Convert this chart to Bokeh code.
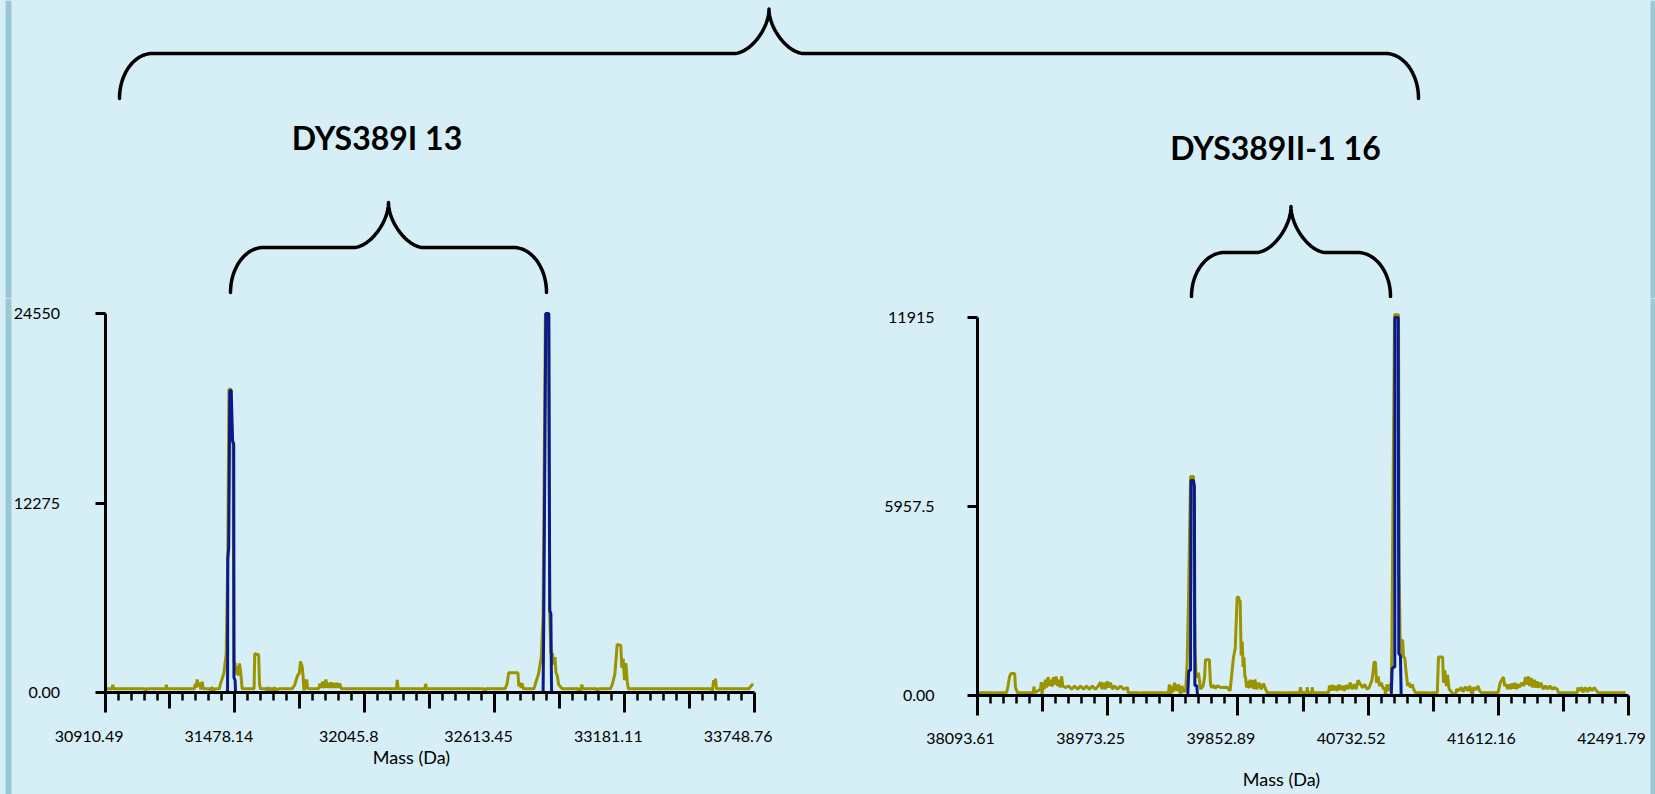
import numpy as np
from bokeh.plotting import figure
from bokeh.layouts import column, row
from bokeh.models import LinearAxis, FixedTicker, Range1d, BoxAnnotation
from bokeh.core.properties import value
from bokeh.embed import file_html
from bokeh.resources import INLINE

try:
    from bokeh.models import GlobalInlineStyleSheet
except Exception:
    GlobalInlineStyleSheet = None

BG = "#D6EEF5"
STRIP = "#9AC8D3"
OLIVE = "#999400"
BLUE = "#0A1A8C"
FONT = "Lato"

# ---------------- data ----------------
titles = ["DYS389I 13", "DYS389II-1 16"]
x_axis_title = "Mass (Da)"

left_x_ticks = [30910.49, 31478.14, 32045.8, 32613.45, 33181.11, 33748.76]
left_x_labels = ["30910.49", "31478.14", "32045.8", "32613.45", "33181.11", "33748.76"]
left_y_ticks = [0, 12275, 24550]
left_y_labels = ["0.00", "12275", "24550"]

right_x_ticks = [38093.61, 38973.25, 39852.89, 40732.52, 41612.16, 42491.79]
right_x_labels = ["38093.61", "38973.25", "39852.89", "40732.52", "41612.16", "42491.79"]
right_y_ticks = [0, 5957.5, 11915]
right_y_labels = ["0.00", "5957.5", "11915"]

left_raw_mass = [30910, 30941, 30944, 30948, 31085, 31087, 31092, 31176, 31178, 31182,
                 31300, 31305, 31309, 31313, 31318, 31323, 31329, 31335, 31340, 31368,
                 31373, 31378, 31385, 31392, 31410, 31415, 31430, 31440, 31447, 31452,
                 31461, 31465, 31470, 31474, 31479, 31484, 31488, 31492, 31498, 31503,
                 31510, 31562, 31565, 31582, 31586, 31590, 31616, 31619, 31624, 31630,
                 31638, 31645, 31652, 31660, 31669, 31729, 31740, 31752, 31760, 31765,
                 31772, 31776, 31780, 31784, 31788, 31792, 31796, 31803, 31844, 31850,
                 31856, 31862, 31868, 31876, 31882, 31888, 31894, 31900, 31906, 31912,
                 31918, 31924, 31930, 31936, 31944, 32185, 32188, 32192, 32309, 32312,
                 32316, 32568, 32571, 32576, 32660, 32668, 32676, 32716, 32720, 32725,
                 32730, 32734, 32740, 32786, 32793, 32806, 32818, 32826, 32836, 32850,
                 32855, 32860, 32867, 32872, 32878, 32882, 32888, 32894, 32910, 32978,
                 32981, 32986, 32990, 32995, 33000, 33060, 33063, 33068, 33121, 33130,
                 33140, 33150, 33166, 33170, 33176, 33182, 33188, 33194, 33199, 33563,
                 33566, 33572, 33578, 33580, 33584, 33726, 33740, 33746]
left_raw_int = [240, 240, 500, 240, 240, 0, 240, 240, 500, 240,
                240, 560, 300, 840, 400, 650, 200, 700, 240, 240,
                30, 350, 100, 240, 240, 560, 1230, 2500, 8700, 19650,
                19650, 16400, 16200, 2000, 1880, 1200, 1700, 1100, 1880, 1400,
                240, 240, 2510, 2450, 500, 240, 240, 50, 350, 80,
                300, 60, 330, 100, 240, 240, 500, 1100, 1250, 2010,
                1700, 1100, 130, 850, 200, 840, 300, 240, 240, 580,
                300, 700, 300, 840, 300, 620, 300, 650, 300, 600,
                300, 620, 300, 580, 240, 240, 820, 240, 240, 560,
                240, 240, 0, 240, 240, 550, 1280, 1280, 400, 640,
                300, 600, 240, 240, 600, 1200, 2300, 5000, 24550, 24550,
                4900, 2500, 2530, 1800, 2300, 1300, 1100, 500, 240, 240,
                0, 300, 100, 500, 240, 240, 0, 240, 240, 600,
                1200, 3110, 3050, 1600, 2200, 800, 1900, 700, 240, 240,
                0, 800, 500, 900, 240, 240, 500, 500]

left_fit_mass = [[31441, 31446, 31447, 31451, 31456, 31462, 31468, 31473, 31474, 31479, 31481],
                 [32822, 32826, 32829, 32838, 32851, 32855, 32860, 32863, 32866]]
left_fit_int = [[0, 0, 8700, 9330, 19560, 19560, 16300, 16100, 970, 780, 0],
                [0, 0, 4880, 24550, 24550, 5310, 5120, 0, 0]]

right_raw_mass = [38094, 38200, 38204, 38210, 38290, 38300, 38310, 38320, 38345, 38350,
                  38364, 38470, 38475, 38480, 38519, 38525, 38530, 38536, 38545, 38552,
                  38560, 38570, 38580, 38590, 38598, 38606, 38614, 38625, 38634, 38645,
                  38652, 38662, 38670, 38688, 38710, 38730, 38750, 38770, 38790, 38810,
                  38830, 38850, 38870, 38890, 38910, 38925, 38935, 38945, 38958, 38970,
                  38980, 38992, 39005, 39020, 39040, 39060, 39080, 39107, 39112, 39190,
                  39195, 39200, 39384, 39390, 39398, 39406, 39414, 39425, 39440, 39452,
                  39465, 39475, 39485, 39500, 39510, 39519, 39533, 39553, 39557, 39563,
                  39570, 39580, 39586, 39593, 39600, 39618, 39628, 39634, 39660, 39668,
                  39675, 39690, 39700, 39715, 39735, 39780, 39800, 39823, 39835, 39848,
                  39858, 39862, 39868, 39875, 39882, 39888, 39894, 39900, 39904, 39912,
                  39920, 39928, 39936, 39944, 39952, 39960, 39968, 39980, 39995, 40010,
                  40025, 40040, 40051, 40158, 40161, 40166, 40270, 40276, 40282, 40318,
                  40321, 40326, 40352, 40355, 40360, 40465, 40472, 40480, 40490, 40500,
                  40512, 40524, 40536, 40548, 40560, 40572, 40585, 40598, 40612, 40625,
                  40640, 40652, 40665, 40681, 40695, 40710, 40725, 40740, 40760, 40773,
                  40782, 40790, 40800, 40810, 40822, 40835, 40845, 40850, 40860, 40870,
                  40880, 40889, 40893, 40911, 40938, 40942, 40950, 40960, 40966, 40972,
                  40980, 40990, 41000, 41010, 41019, 41030, 41040, 41053, 41150, 41154,
                  41160, 41200, 41208, 41236, 41242, 41250, 41262, 41269, 41280, 41300,
                  41323, 41330, 41345, 41360, 41375, 41390, 41405, 41420, 41435, 41445,
                  41460, 41475, 41485, 41500, 41610, 41625, 41647, 41655, 41665, 41675,
                  41685, 41695, 41705, 41715, 41725, 41735, 41745, 41755, 41770, 41785,
                  41796, 41805, 41815, 41825, 41835, 41845, 41856, 41864, 41875, 41885,
                  41900, 41915, 41930, 41945, 41960, 41975, 41990, 42010, 42019, 42145,
                  42150, 42158, 42175, 42185, 42200, 42215, 42230, 42245, 42260, 42275,
                  42289, 42472]
right_raw_int = [85, 85, 0, 85, 85, 300, 600, 690, 690, 250,
                 85, 85, 280, 85, 200, 420, 0, 400, 200, 500,
                 250, 580, 300, 500, 280, 580, 350, 600, 300, 500,
                 250, 600, 300, 250, 300, 200, 300, 200, 300, 200,
                 300, 200, 300, 200, 300, 420, 200, 400, 200, 450,
                 250, 400, 200, 300, 200, 300, 200, 250, 85, 85,
                 0, 85, 85, 350, 0, 300, 100, 400, 150, 350,
                 0, 300, 120, 150, 1000, 3000, 6900, 6900, 4000, 1500,
                 700, 560, 720, 500, 200, 300, 600, 1130, 1130, 350,
                 250, 320, 230, 310, 250, 260, 150, 1200, 1500, 3100,
                 3100, 2990, 2990, 1260, 1700, 900, 1200, 600, 580, 250,
                 450, 230, 500, 250, 480, 200, 500, 200, 400, 200,
                 380, 200, 85, 85, 0, 85, 85, 260, 85, 85,
                 260, 85, 85, 260, 85, 85, 320, 150, 330, 170,
                 300, 150, 340, 180, 300, 150, 330, 200, 400, 200,
                 350, 200, 480, 350, 250, 350, 200, 250, 500, 1050,
                 1050, 400, 600, 300, 400, 200, 250, 0, 350, 150,
                 300, 400, 1500, 12000, 12000, 4000, 1300, 1740, 1740, 1200,
                 1200, 700, 300, 400, 250, 350, 200, 85, 85, 0,
                 85, 85, 1210, 1210, 400, 800, 300, 650, 200, 85,
                 0, 200, 150, 250, 120, 280, 150, 300, 0, 250,
                 180, 300, 150, 85, 85, 400, 580, 300, 350, 200,
                 350, 200, 380, 220, 400, 200, 360, 250, 400, 300,
                 580, 350, 600, 300, 550, 250, 500, 250, 450, 250,
                 400, 200, 300, 200, 300, 200, 250, 200, 85, 85,
                 250, 150, 250, 100, 250, 120, 250, 150, 250, 150,
                 85, 85]

right_fit_mass = [[39510, 39514, 39521, 39533, 39536, 39553, 39559, 39562, 39575, 39580, 39584],
                  [40885, 40889, 40895, 40913, 40914, 40936, 40940, 40951, 40956, 40960]]
right_fit_int = [[0, 0, 790, 790, 6780, 6780, 6590, 315, 315, 0, 0],
                 [0, 0, 851, 914, 11915, 11915, 1314, 1261, 0, 0]]


# ---------------- charts ----------------
def spectrum(width, height, axis_px, right_px, zero_px, top_px,
             xt, xlab, yt, ylab, raw_m, raw_i, fit_m, fit_i,
             label_shift_px=16, title_shift_px=24, y_standoff=30,
             label_standoff=34, title_standoff=74):
    # the frame covers the whole figure; the axes sit at fixed data locations
    dpp = (xt[-1] - xt[0]) / (right_px - axis_px)
    xr = Range1d(xt[0] - axis_px * dpp, xt[0] + (width - axis_px) * dpp)
    vpp = yt[-1] / (zero_px - top_px)
    yr = Range1d(-(height - zero_px) * vpp, zero_px * vpp)
    p = figure(width=width, height=height, x_range=xr, y_range=yr,
               output_backend="svg", toolbar_location=None,
               x_axis_location=None, y_axis_location=None, min_border=0,
               background_fill_color=BG, border_fill_color=BG, outline_line_color=None)
    p.grid.visible = False

    p.line(raw_m, raw_i, line_color=OLIVE, line_width=3)
    p.multi_line(fit_m, fit_i, line_color=BLUE, line_width=3)

    # y axis
    yax = LinearAxis(fixed_location=xt[0],
                     ticker=FixedTicker(ticks=yt, minor_ticks=[]),
                     bounds=(0, yt[-1]),
                     major_label_overrides={t: l for t, l in zip(yt, ylab)},
                     axis_line_width=3, axis_line_color="black",
                     major_tick_out=10, major_tick_in=0, major_tick_line_width=3,
                     minor_tick_line_color=None,
                     major_label_standoff=y_standoff,
                     major_label_text_font=FONT, major_label_text_font_size="16px",
                     major_label_text_color="black")
    p.add_layout(yax, "left")

    # x axis: line + major + minor ticks
    minors = [xt[i] + (xt[i + 1] - xt[i]) * k / 10.0
              for i in range(len(xt) - 1) for k in range(1, 10) if k != 5]
    mids = [(xt[i] + xt[i + 1]) / 2.0 for i in range(len(xt) - 1)]
    ax = LinearAxis(fixed_location=0,
                    ticker=FixedTicker(ticks=xt, minor_ticks=minors),
                    bounds=(xt[0], xt[-1]),
                    axis_line_width=3, axis_line_color="black",
                    major_tick_out=20, major_tick_in=0, major_tick_line_width=3,
                    minor_tick_out=8, minor_tick_in=0, minor_tick_line_width=2.5,
                    minor_tick_line_color="black",
                    major_label_text_color=None, major_label_standoff=0)
    p.add_layout(ax, "below")
    ax_mid = LinearAxis(fixed_location=0,
                        ticker=FixedTicker(ticks=mids, minor_ticks=[]),
                        axis_line_color=None,
                        major_tick_out=16, major_tick_in=0, major_tick_line_width=3,
                        minor_tick_line_color=None,
                        major_label_text_color=None, major_label_standoff=0)
    p.add_layout(ax_mid, "below")
    shift = label_shift_px * dpp
    lt = [t - shift for t in xt]
    ax_lab = LinearAxis(fixed_location=0,
                        ticker=FixedTicker(ticks=lt, minor_ticks=[]),
                        bounds=(lt[0], lt[-1]),
                        axis_line_color=None, major_tick_line_color=None,
                        major_tick_out=0, major_tick_in=0,
                        minor_tick_line_color=None, minor_tick_out=0, minor_tick_in=0,
                        major_label_overrides={t: l for t, l in zip(lt, xlab)},
                        major_label_standoff=label_standoff,
                        major_label_text_font=FONT, major_label_text_font_size="16px",
                        major_label_text_color="black")
    p.add_layout(ax_lab, "below")
    c = (xt[0] + xt[-1]) / 2.0 - title_shift_px * dpp
    ax_t = LinearAxis(fixed_location=0,
                      ticker=FixedTicker(ticks=[], minor_ticks=[]),
                      bounds=(c - 100 * dpp, c + 100 * dpp),
                      axis_line_color=None, major_tick_line_color=None,
                      minor_tick_line_color=None, major_tick_out=0, minor_tick_out=0,
                      major_tick_in=0, minor_tick_in=0, major_label_standoff=0,
                      axis_label=x_axis_title, axis_label_standoff=title_standoff,
                      axis_label_text_font=FONT, axis_label_text_font_size="18px",
                      axis_label_text_font_style="normal", axis_label_text_color="black")
    p.add_layout(ax_t, "below")
    return p


left = spectrum(808, 496, 104.6, 753.6, 394, 15, left_x_ticks, left_x_labels,
                left_y_ticks, left_y_labels, left_raw_mass, left_raw_int,
                left_fit_mass, left_fit_int, label_shift_px=16, title_shift_px=18,
                y_standoff=35, label_standoff=38, title_standoff=53)
right = spectrum(847, 496, 169, 820, 397, 19, right_x_ticks, right_x_labels,
                 right_y_ticks, right_y_labels, right_raw_mass, right_raw_int,
                 right_fit_mass, right_fit_int, label_shift_px=17, title_shift_px=22,
                 y_standoff=33, label_standoff=37, title_standoff=72)

# page frame strips at the left and right edges
left.add_layout(BoxAnnotation(left=5, right=11, left_units="screen", right_units="screen",
                              fill_color=STRIP, fill_alpha=1, line_color=None))
right.add_layout(BoxAnnotation(left=842, right=847, left_units="screen", right_units="screen",
                               fill_color=STRIP, fill_alpha=1, line_color=None))

# ---------------- braces + titles ----------------
top = figure(width=1655, height=298, x_range=Range1d(0, 1655), y_range=Range1d(298, 0),
             output_backend="svg", toolbar_location=None,
             x_axis_location=None, y_axis_location=None, min_border=0,
             background_fill_color=BG, border_fill_color=BG, outline_line_color=None)
top.grid.visible = False
top.add_layout(BoxAnnotation(left=5, right=11, left_units="screen", right_units="screen",
                             fill_color=STRIP, fill_alpha=1, line_color=None))
top.add_layout(BoxAnnotation(left=1650, right=1655, left_units="screen", right_units="screen",
                             fill_color=STRIP, fill_alpha=1, line_color=None))


def cubic(p0, p1, p2, p3, n=30):
    t = np.linspace(0, 1, n)[:, None]
    P = ((1 - t) ** 3) * np.array(p0) + 3 * ((1 - t) ** 2) * t * np.array(p1) \
        + 3 * (1 - t) * t * t * np.array(p2) + (t ** 3) * np.array(p3)
    return P


def brace(x0, x1, yb, ym, yt, re=33, rc=35, k=0.55, kc=0.45):
    xc = (x0 + x1) / 2.0
    h1 = yb - ym
    h2 = ym - yt
    s1 = cubic((x0, yb), (x0, yb - k * h1), (x0 + re - k * re, ym), (x0 + re, ym))
    s2 = cubic((xc - rc, ym), (xc - rc + kc * rc, ym), (xc, yt + kc * h2), (xc, yt))
    left_half = np.vstack([s1, s2])
    right_half = left_half[::-1].copy()
    right_half[:, 0] = 2 * xc - right_half[:, 0]
    pts = np.vstack([left_half, right_half])
    return list(pts[:, 0]), list(pts[:, 1])


for (bx0, bx1, byb, bym, byt) in [(119, 1418, 98, 53, 8.5),
                                  (230, 546, 292, 247, 202),
                                  (1191, 1390, 296, 252, 206)]:
    bx, by = brace(bx0, bx1, byb, bym, byt)
    top.line(bx, by, line_color="black", line_width=3.5, line_join="round", line_cap="round")

top.text(x=[376.5, 1275], y=[137, 147], text=titles,
         text_font=value(FONT), text_font_style="bold", text_font_size="32px",
         text_align="center", text_baseline="middle", text_color="black")

sheets = []
if GlobalInlineStyleSheet is not None:
    sheets = [GlobalInlineStyleSheet(css="body { background-color: %s; }" % BG)]

layout = column(top, row(left, right), stylesheets=sheets)

open("out.html", "w").write(file_html(layout, INLINE))
